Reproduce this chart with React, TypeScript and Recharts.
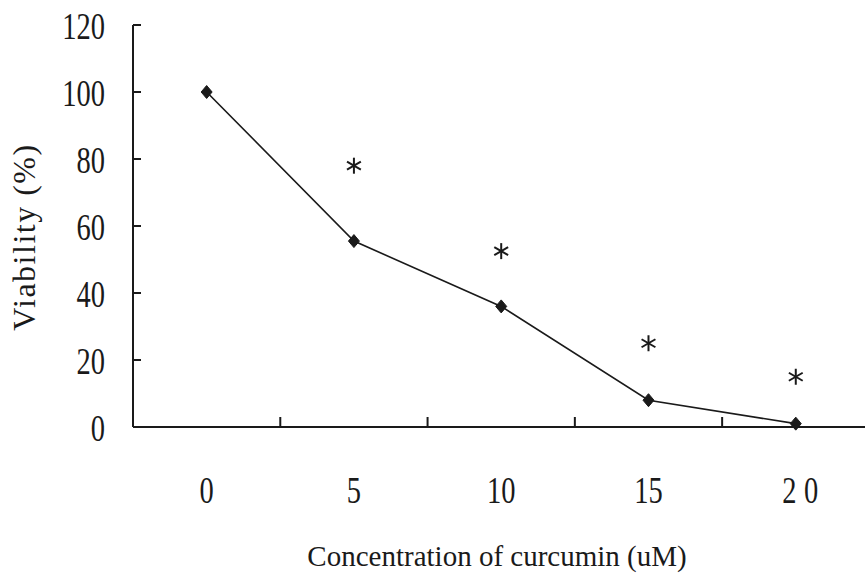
import React from "react";
import { ComposedChart, Line, Scatter, XAxis, YAxis, Label } from "recharts";

const concentrations = [0, 5, 10, 15, 20];
const viability = [100, 55.5, 36, 8, 1];
const significance = [null, 78, 52.5, 25, 15];
const xTicks = [0, 2.5, 5, 7.5, 10, 12.5, 15, 17.5, 20];
const yTicks = [0, 20, 40, 60, 80, 100, 120];

const data = concentrations.map((c, i) => ({
  conc: c,
  viability: viability[i],
  sig: significance[i],
}));

const FONT = "'Liberation Serif', 'Times New Roman', serif";
const INK = "#1a1a1a";

const XTick = (props: any) => {
  const { x, y, payload } = props;
  const v = payload.value;
  if (v % 5 === 0) {
    const ls = v >= 20 ? 10 : 0;
    return (
      <text
        transform={`translate(${x},${y + 76}) scale(0.75,1)`}
        textAnchor="middle"
        fontFamily={FONT}
        fontSize={38}
        letterSpacing={ls}
        dx={ls / 2 + (v >= 20 ? 6 : 0)}
        fill={INK}
      >
        {String(v)}
      </text>
    );
  }
  return <line x1={x} y1={y} x2={x} y2={y - 10} stroke={INK} strokeWidth={2} />;
};

const YTick = (props: any) => {
  const { x, y, payload } = props;
  return (
    <g>
      <line x1={x} y1={y} x2={x + 8} y2={y} stroke={INK} strokeWidth={2} />
      <text
        transform={`translate(${x - 28},${y + 14}) scale(0.75,1)`}
        textAnchor="end"
        fontFamily={FONT}
        fontSize={38}
        fill={INK}
      >
        {String(payload.value)}
      </text>
    </g>
  );
};

const Diamond = (props: any) => {
  const { cx, cy } = props;
  if (cx == null || cy == null) return null;
  return (
    <path
      d={`M${cx},${cy - 6.5} L${cx + 5.5},${cy} L${cx},${cy + 6.5} L${cx - 5.5},${cy} Z`}
      fill={INK}
      stroke={INK}
    />
  );
};

const Asterisk = (props: any) => {
  const { cx, cy } = props;
  if (cx == null || cy == null) return null;
  const r = 8;
  const dx = r * Math.cos(Math.PI / 6);
  const dy = r * Math.sin(Math.PI / 6);
  return (
    <g stroke={INK} strokeWidth={2}>
      <line x1={cx} y1={cy - r} x2={cx} y2={cy + r} />
      <line x1={cx - dx} y1={cy - dy} x2={cx + dx} y2={cy + dy} />
      <line x1={cx - dx} y1={cy + dy} x2={cx + dx} y2={cy - dy} />
    </g>
  );
};

export default function App() {
  return (
    <div style={{ position: "absolute", left: 0, top: 0, background: "#fff" }}>
      <ComposedChart
        width={865}
        height={574}
        data={data}
        margin={{ top: 25, right: 0, left: 0, bottom: 0 }}
      >
        <XAxis
          dataKey="conc"
          type="number"
          domain={[-2.5, 22.35]}
          ticks={xTicks}
          interval={0}
          height={147}
          tickSize={0}
          tickMargin={0}
          tickLine={false}
          tick={<XTick />}
          axisLine={{ stroke: INK, strokeWidth: 2 }}
          allowDataOverflow
        >
          <Label
            content={() => (
              <text
                x={497}
                y={566}
                textAnchor="middle"
                fontFamily={FONT}
                fontSize={29}
                fill={INK}
              >
                Concentration of curcumin (uM)
              </text>
            )}
          />
        </XAxis>
        <YAxis
          type="number"
          domain={[0, 120]}
          ticks={yTicks}
          interval={0}
          width={133}
          tickSize={0}
          tickMargin={0}
          tickLine={false}
          tick={<YTick />}
          axisLine={{ stroke: INK, strokeWidth: 2 }}
        >
          <Label
            content={() => (
              <text
                transform="translate(35,237) rotate(-90)"
                textAnchor="middle"
                fontFamily={FONT}
                fontSize={32}
                letterSpacing={1.5}
                fill={INK}
              >
                Viability (%)
              </text>
            )}
          />
        </YAxis>
        <Line
          dataKey="viability"
          stroke={INK}
          strokeWidth={1.6}
          dot={<Diamond />}
          activeDot={false}
          isAnimationActive={false}
        />
        <Scatter dataKey="sig" shape={<Asterisk />} isAnimationActive={false} />
      </ComposedChart>
    </div>
  );
}
